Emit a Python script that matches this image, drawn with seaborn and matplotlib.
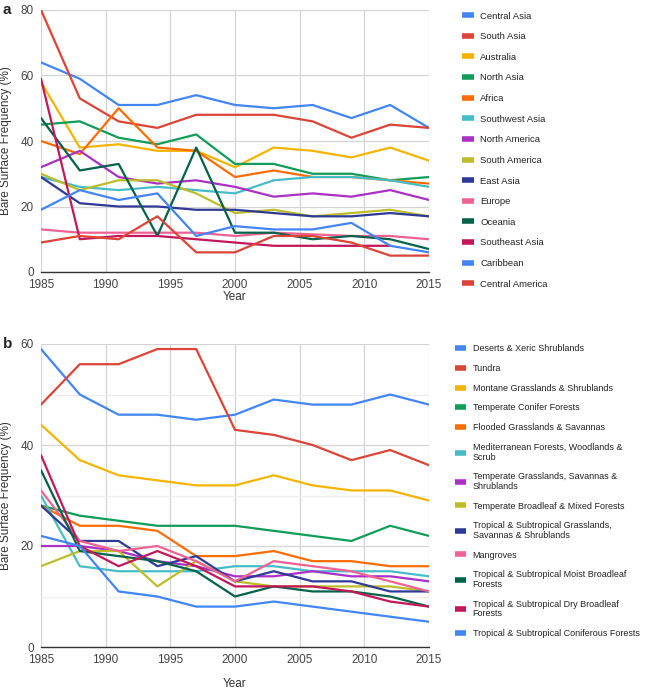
import numpy as np
import pandas as pd
import seaborn as sns
import matplotlib.pyplot as plt
from matplotlib.lines import Line2D

years = [1985, 1988, 1991, 1994, 1997, 2000, 2003, 2006, 2009, 2012, 2015]

# panel a: regions
regions = ["Central Asia", "South Asia", "Australia", "North Asia", "Africa",
           "Southwest Asia", "North America", "South America", "East Asia",
           "Europe", "Oceania", "Southeast Asia", "Caribbean", "Central America"]
central_asia = [64, 59, 51, 51, 54, 51, 50, 51, 47, 51, 44]
south_asia = [80, 53, 46, 44, 48, 48, 48, 46, 41, 45, 44]
australia = [58, 38, 39, 37, 37, 32, 38, 37, 35, 38, 34]
north_asia = [45, 46, 41, 39, 42, 33, 33, 30, 30, 28, 29]
africa = [40, 36, 50, 38, 37, 29, 31, 29, 29, 28, 27]
southwest_asia = [29, 26, 25, 26, 25, 24, 28, 29, 29, 28, 26]
north_america = [32, 37, 29, 27, 28, 26, 23, 24, 23, 25, 22]
south_america = [30, 25, 28, 28, 24, 18, 19, 17, 18, 19, 17]
east_asia = [29, 21, 20, 20, 19, 19, 18, 17, 17, 18, 17]
europe = [13, 12, 12, 12, 12, 11, 12, 11.5, 11, 11, 10]
oceania = [47, 31, 33, 11, 38, 12, 12, 10, 11, 10, 7]
southeast_asia = [59, 10, 11, 11, 10, 9, 8, 8, 8, 8, np.nan]
caribbean = [19, 25, 22, 24, 11, 14, 13, 13, 15, 8, 6]
central_america = [9, 11, 10, 17, 6, 6, 11, 11, 9, 5, 5]
region_values = [central_asia, south_asia, australia, north_asia, africa,
                 southwest_asia, north_america, south_america, east_asia,
                 europe, oceania, southeast_asia, caribbean, central_america]

# panel b: biomes
biomes = ["Deserts & Xeric Shrublands", "Tundra", "Montane Grasslands & Shrublands",
          "Temperate Conifer Forests", "Flooded Grasslands & Savannas",
          "Mediterranean Forests, Woodlands &\nScrub",
          "Temperate Grasslands, Savannas &\nShrublands",
          "Temperate Broadleaf & Mixed Forests",
          "Tropical & Subtropical Grasslands,\nSavannas & Shrublands",
          "Mangroves",
          "Tropical & Subtropical Moist Broadleaf\nForests",
          "Tropical & Subtropical Dry Broadleaf\nForests",
          "Tropical & Subtropical Coniferous Forests"]
deserts = [59, 50, 46, 46, 45, 46, 49, 48, 48, 50, 48]
tundra = [48, 56, 56, 59, 59, 43, 42, 40, 37, 39, 36]
montane = [44, 37, 34, 33, 32, 32, 34, 32, 31, 31, 29]
conifer = [28, 26, 25, 24, 24, 24, 23, 22, 21, 24, 22]
flooded = [28, 24, 24, 23, 18, 18, 19, 17, 17, 16, 16]
mediterranean = [30, 16, 15, 15, 15, 16, 16, 15, 15, 15, 14]
temp_grass = [20, 20, 19, 17, 16, 14, 14, 15, 14, 14, 13]
temp_broadleaf = [16, 19, 19, 12, 17, 13, 12, 12, 12, 12, 11]
trop_grass = [28, 21, 21, 16, 18, 13, 15, 13, 13, 11, 11]
mangroves = [31, 21, 19, 20, 17, 13, 17, 16, 15, 13, 11]
moist_broadleaf = [35, 19, 18, 17, 15, 10, 12, 11, 11, 10, 8]
dry_broadleaf = [38, 20, 16, 19, 16, 12, 12, 12, 11, 9, 8]
coniferous = [22, 20, 11, 10, 8, 8, 9, 8, 7, 6, 5]
biome_values = [deserts, tundra, montane, conifer, flooded, mediterranean,
                temp_grass, temp_broadleaf, trop_grass, mangroves,
                moist_broadleaf, dry_broadleaf, coniferous]

colors = ["#4285F4", "#DB4437", "#F4B400", "#0F9D58", "#FF6D00", "#46BDC6",
          "#AB30C4", "#BDBD2A", "#2E3A96", "#F06292", "#04624A", "#C2185B",
          "#4285F4", "#DB4437"]


def long_form(names, values):
    rows = []
    for name, vals in zip(names, values):
        for y, v in zip(years, vals):
            rows.append({"Year": y, "value": v, "series": name})
    return pd.DataFrame(rows)


sns.set_style("white")
plt.rcParams["font.family"] = ["Liberation Sans", "DejaVu Sans"]

fig = plt.figure(figsize=(6.47, 6.90), dpi=100)
ax_a = fig.add_axes([41 / 647, 1 - 272 / 690, 388 / 647, 262 / 690])
ax_b = fig.add_axes([41 / 647, 1 - 647 / 690, 388 / 647, 303 / 690])

# (axes, names, values, ymax, xlabel pad, tag, legend x, legend y, font, label spacing)
panels = [
    (ax_a, regions, region_values, 80, 0, "a", 1.085, 0.994, 6.8, 1.23),
    (ax_b, biomes, biome_values, 60, 9, "b", 1.067, 1.0, 6.5, 1.2),
]

for ax, names, values, ymax, xpad, tag, lx, ly, lfs, lsp in panels:
    df = long_form(names, values)
    pal = dict(zip(names, colors))
    sns.lineplot(data=df, x="Year", y="value", hue="series", hue_order=names,
                 palette=pal, linewidth=1.6, ax=ax, legend=False)
    ax.set_xlim(1985, 2015)
    ax.set_ylim(0, ymax)
    ax.set_xticks([1985, 1990, 1995, 2000, 2005, 2010, 2015])
    ax.set_yticks(np.arange(0, ymax + 1, 20))
    if tag == "b":
        ax.set_yticks([10, 30, 50], minor=True)
        ax.grid(True, which="minor", axis="y", color="#eeeeee", linewidth=0.9)
    ax.grid(True, which="major", color="#d4d4d4", linewidth=0.9)
    ax.set_axisbelow(True)
    for s in ["top", "right", "left"]:
        ax.spines[s].set_visible(False)
    ax.spines["bottom"].set_color("#333333")
    ax.spines["bottom"].set_linewidth(1.0)
    ax.tick_params(axis="both", length=0, labelsize=8.5, colors="#444444")
    ax.tick_params(axis="y", pad=5)
    ax.tick_params(axis="x", pad=5)
    ax.tick_params(axis="y", which="minor", length=0)
    ax.set_xlabel("Year", fontsize=8.5, color="#333333", labelpad=xpad)
    ax.set_ylabel("Bare Surface Frequency (%)", fontsize=8.5, color="#333333", labelpad=6)
    ax.text(-0.098, 1.0, tag, transform=ax.transAxes, fontsize=11,
            fontweight="bold", ha="left", va="center")

    handles = [Line2D([0], [0], color=c, linewidth=4, solid_capstyle="butt")
               for c in colors[:len(names)]]
    leg = ax.legend(handles, names, loc="upper left", bbox_to_anchor=(lx, ly),
                    frameon=False, fontsize=lfs, handlelength=1.25,
                    handletextpad=0.7, borderpad=0, borderaxespad=0,
                    labelspacing=lsp)
    for t in leg.get_texts():
        t.set_color("#222222")
        t.set_linespacing(1.05)

fig.savefig("out.png", dpi=100)
